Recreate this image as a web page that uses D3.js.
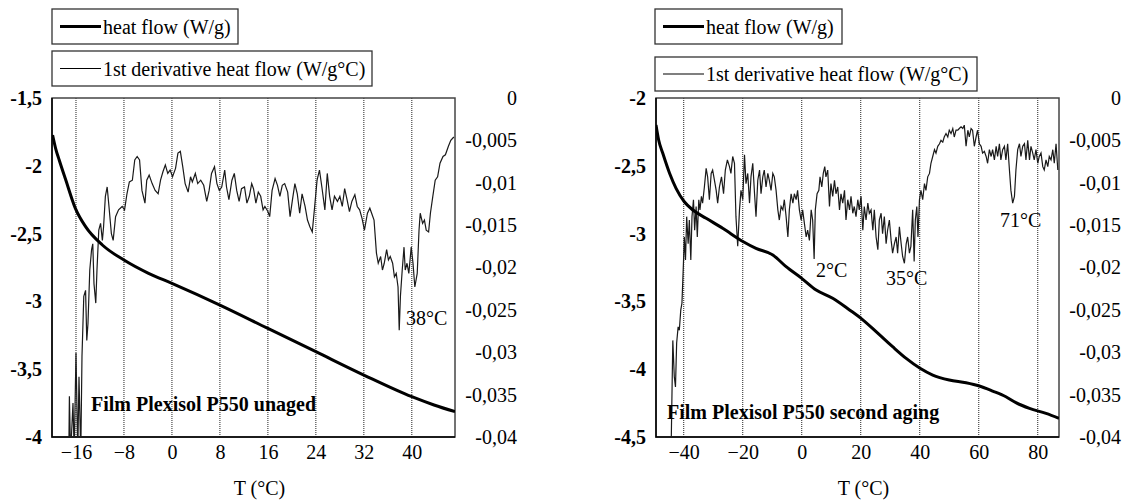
<!DOCTYPE html>
<html>
<head>
<meta charset="utf-8">
<script src="https://cdn.jsdelivr.net/npm/d3@7"></script>
<style>
  body { margin: 0; background: #fff; }
  text { font-family: "Liberation Serif", "Times New Roman", serif; fill: #000; }
</style>
</head>
<body>
<svg width="1132" height="504"></svg>
<script>
// ---- left panel : Film Plexisol P550 unaged ----
const unagedHeatT = [-19.9, -19.4, -18.8, -17.7, -16.1, -14.4, -11.6, -8.0, -3.9, 0, 8.0, 16.0, 24.0, 32.0, 40.0, 43.7, 47.2];
const unagedHeat  = [-1.773, -1.871, -1.957, -2.105, -2.314, -2.449, -2.584, -2.695, -2.793, -2.867, -3.027, -3.199, -3.371, -3.543, -3.703, -3.764, -3.813];

const unagedDerivT = [
  -17.2, -17.1, -16.9, -16.5, -16.3, -16.0, -15.7, -15.5, -15.2, -15.0,
  -14.7, -14.4, -14.2, -14.0, -13.7, -13.4, -13.2, -13.0, -12.7, -12.5,
  -12.2, -11.9, -11.6, -11.4, -11.1, -10.8, -10.5, -10.1, -9.8, -9.4,
  -8.9, -8.3, -7.9, -7.5, -7.1, -6.6, -6.2, -5.8, -5.4, -5.0,
  -4.5, -4.2, -3.8, -3.3, -2.8, -2.3, -1.9, -1.5, -1.1, -0.7,
  -0.3, 0.1, 0.6, 1.0, 1.4, 1.8, 2.2, 2.7, 3.1, 3.4,
  3.9, 4.3, 4.8, 5.3, 5.8, 6.2, 6.6, 7.1, 7.5, 7.9,
  8.3, 8.8, 9.1, 9.5, 10.0, 10.4, 10.8, 11.2, 11.6, 12.1,
  12.5, 12.9, 13.3, 13.6, 14.0, 14.4, 14.8, 15.2, 15.5, 16.0,
  16.3, 16.7, 17.2, 17.6, 18.0, 18.4, 18.8, 19.3, 19.7, 20.1,
  20.5, 20.9, 21.3, 21.7, 22.2, 22.6, 23.0, 23.4, 23.8, 24.2,
  24.6, 25.0, 25.5, 25.9, 26.3, 26.7, 27.1, 27.6, 28.0, 28.4,
  28.8, 29.2, 29.6, 30.0, 30.5, 30.9, 31.3, 31.7, 32.1, 32.6,
  33.0, 33.3, 33.7, 34.1, 34.4, 34.8, 35.1, 35.4, 35.8, 36.1,
  36.4, 36.8, 37.1, 37.4, 37.7, 37.9, 38.1, 38.4, 38.7, 38.9,
  39.2, 39.5, 39.9, 40.2, 40.5, 40.9, 41.2, 41.4, 41.8, 42.1,
  42.4, 42.8, 43.1, 43.5, 43.9, 44.3, 44.7, 45.2, 45.6, 46.1, 46.5, 47.0
];
const unagedDeriv = [
  -0.042, -0.0352, -0.042, -0.0360, -0.042, -0.0301, -0.042, -0.0329, -0.042, -0.0305,
  -0.0234, -0.0227, -0.0286, -0.0266, -0.0203, -0.0179, -0.0172, -0.0219, -0.0242, -0.0203,
  -0.0156, -0.0148, -0.0168, -0.0152, -0.0116, -0.0105, -0.0128, -0.0160, -0.0168, -0.0140,
  -0.0132, -0.0128, -0.0132, -0.0113, -0.0099, -0.0097, -0.0073, -0.0069, -0.0073, -0.0109,
  -0.0124, -0.0097, -0.0091, -0.0101, -0.0109, -0.0113, -0.0097, -0.0087, -0.0079, -0.0089,
  -0.0085, -0.0093, -0.0083, -0.0065, -0.0063, -0.0081, -0.0101, -0.0111, -0.0093, -0.0099,
  -0.0089, -0.0101, -0.0097, -0.0103, -0.0122, -0.0109, -0.0089, -0.0081, -0.0101, -0.0109,
  -0.0105, -0.0085, -0.0105, -0.0120, -0.0097, -0.0089, -0.0109, -0.0122, -0.0107, -0.0105,
  -0.0124, -0.0116, -0.0101, -0.0107, -0.0124, -0.0111, -0.0116, -0.0132, -0.0128, -0.0134,
  -0.0140, -0.0109, -0.0095, -0.0103, -0.0116, -0.0103, -0.0101, -0.0111, -0.0140, -0.0120,
  -0.0101, -0.0113, -0.0136, -0.0113, -0.0128, -0.0144, -0.0152, -0.0158, -0.0128, -0.0097,
  -0.0085, -0.0105, -0.0132, -0.0089, -0.0116, -0.0132, -0.0116, -0.0122, -0.0116, -0.0128,
  -0.0107, -0.0120, -0.0134, -0.0122, -0.0114, -0.0128, -0.0132, -0.0142, -0.0156, -0.0136,
  -0.0130, -0.0136, -0.0144, -0.0183, -0.0195, -0.0187, -0.0203, -0.0195, -0.0179, -0.0191,
  -0.0187, -0.0195, -0.0211, -0.0207, -0.0223, -0.0274, -0.0234, -0.0203, -0.0176, -0.0203,
  -0.0195, -0.0207, -0.0176, -0.0195, -0.0223, -0.0207, -0.0156, -0.0136, -0.0148, -0.0144,
  -0.0156, -0.0158, -0.0136, -0.0116, -0.0097, -0.0093, -0.0077, -0.0069, -0.0067, -0.0057, -0.0050, -0.0046
];
const unagedXTicks = [-16, -8, 0, 8, 16, 24, 32, 40];
const unagedHeatTicks = [-1.5, -2, -2.5, -3, -3.5, -4];

// ---- right panel : Film Plexisol P550 second aging ----
const agedHeatT = [-49.4, -48.5, -47.1, -44.8, -42.6, -39.8, -36.9, -32.4, -26.8, -19.8, -15.5, -9.8, -5.3, 0, 4.9, 10.5, 16.2, 20.1, 25.2, 30.8, 35.4, 40.1, 44.4, 50.0, 55.7, 60.2, 64.7, 69.2, 72.6, 77.2, 82.8, 87.2];
const agedHeat  = [-2.199, -2.310, -2.408, -2.555, -2.666, -2.765, -2.826, -2.887, -2.961, -3.060, -3.109, -3.158, -3.244, -3.330, -3.416, -3.477, -3.563, -3.625, -3.723, -3.834, -3.920, -3.993, -4.043, -4.080, -4.100, -4.124, -4.161, -4.203, -4.247, -4.289, -4.326, -4.362];

const agedDerivT = [
  -44.3, -43.7, -43.2, -42.8, -42.4, -41.9, -41.5, -41.0, -40.6, -40.1,
  -39.8, -39.4, -39.0, -38.5, -38.1, -37.6, -37.2, -36.7, -36.3, -35.8,
  -35.4, -34.9, -34.5, -34.0, -33.6, -33.0, -32.4, -31.9, -31.3, -30.7,
  -30.2, -29.6, -29.0, -28.5, -27.9, -27.2, -26.5, -25.9, -25.2, -24.5,
  -24.0, -23.4, -22.8, -22.3, -21.7, -21.1, -20.6, -20.0, -19.4, -18.9,
  -18.3, -17.7, -17.2, -16.6, -16.0, -15.5, -14.9, -14.3, -13.8, -13.2,
  -12.7, -12.1, -11.5, -11.0, -10.4, -9.8, -9.3, -8.7, -8.1, -7.6,
  -7.0, -6.4, -5.9, -5.3, -4.7, -4.2, -3.6, -3.0, -2.5, -1.9,
  -1.4, -0.8, -0.2, 0.3, 0.9, 1.5, 2.0, 2.6, 3.2, 3.7,
  4.2, 4.6, 5.2, 5.8, 6.2, 6.8, 7.3, 7.8, 8.2, 8.8,
  9.4, 9.9, 10.5, 11.1, 11.6, 12.2, 12.8, 13.3, 13.9, 14.5,
  15.0, 15.6, 16.2, 16.7, 17.3, 17.8, 18.4, 19.0, 19.5, 20.1,
  20.7, 21.2, 21.8, 22.4, 22.9, 23.5, 24.1, 24.6, 25.2, 25.8,
  26.3, 26.9, 27.4, 28.0, 28.6, 29.1, 29.7, 30.3, 30.8, 31.4,
  32.0, 32.5, 33.1, 33.7, 34.2, 34.8, 35.4, 35.9, 36.5, 37.0,
  37.6, 38.1, 38.5, 39.0, 39.4, 39.9, 40.4, 41.0, 41.6, 42.1,
  42.7, 43.3, 43.8, 44.4, 45.0, 45.5, 46.1, 46.7, 47.2, 47.8,
  48.3, 48.9, 49.5, 50.0, 50.6, 51.2, 51.7, 52.3, 52.9, 53.4,
  54.0, 54.6, 55.1, 55.7, 56.3, 56.8, 57.4, 57.9, 58.5, 59.1,
  59.6, 60.2, 60.8, 61.3, 61.9, 62.5, 63.0, 63.6, 64.2, 64.7,
  65.3, 65.9, 66.4, 67.0, 67.5, 68.1, 68.7, 69.2, 69.8, 70.4,
  70.9, 71.5, 72.1, 72.6, 73.2, 73.8, 74.3, 74.9, 75.5, 76.0,
  76.6, 77.2, 77.7, 78.3, 78.8, 79.4, 80.0, 80.5, 81.1, 81.7,
  82.2, 82.8, 83.4, 83.9, 84.5, 85.1, 85.6, 86.2, 86.8
];
const agedDeriv = [
  -0.042, -0.0286, -0.0329, -0.0341, -0.0289, -0.0270, -0.0274, -0.0250, -0.0242, -0.0195,
  -0.0164, -0.0191, -0.0140, -0.0172, -0.0144, -0.0191, -0.0140, -0.0120, -0.0156, -0.0128,
  -0.0164, -0.0120, -0.0132, -0.0116, -0.0124, -0.0105, -0.0083, -0.0093, -0.0120, -0.0089,
  -0.0085, -0.0097, -0.0109, -0.0124, -0.0105, -0.0093, -0.0113, -0.0085, -0.0073, -0.0081,
  -0.0089, -0.0069, -0.0077, -0.0140, -0.0175, -0.0132, -0.0109, -0.0120, -0.0067, -0.0101,
  -0.0089, -0.0124, -0.0093, -0.0077, -0.0113, -0.0140, -0.0097, -0.0085, -0.0113, -0.0093,
  -0.0085, -0.0105, -0.0089, -0.0097, -0.0109, -0.0089, -0.0093, -0.0109, -0.0132, -0.0144,
  -0.0128, -0.0132, -0.0120, -0.0140, -0.0164, -0.0132, -0.0113, -0.0124, -0.0113, -0.0120,
  -0.0109, -0.0132, -0.0144, -0.0132, -0.0148, -0.0164, -0.0156, -0.0168, -0.0132, -0.0144,
  -0.0190, -0.0132, -0.0113, -0.0109, -0.0093, -0.0105, -0.0089, -0.0081, -0.0093, -0.0085,
  -0.0128, -0.0101, -0.0116, -0.0097, -0.0113, -0.0105, -0.0132, -0.0113, -0.0124, -0.0109,
  -0.0144, -0.0120, -0.0132, -0.0116, -0.0136, -0.0128, -0.0140, -0.0120, -0.0132, -0.0116,
  -0.0156, -0.0128, -0.0144, -0.0124, -0.0136, -0.0132, -0.0156, -0.0132, -0.0164, -0.0179,
  -0.0144, -0.0136, -0.0160, -0.0140, -0.0172, -0.0156, -0.0144, -0.0168, -0.0183, -0.0172,
  -0.0164, -0.0183, -0.0152, -0.0172, -0.0187, -0.0195, -0.0172, -0.0164, -0.0183, -0.0175,
  -0.0132, -0.0193, -0.0144, -0.0128, -0.0164, -0.0120, -0.0109, -0.0120, -0.0101, -0.0109,
  -0.0093, -0.0089, -0.0077, -0.0069, -0.0061, -0.0065, -0.0057, -0.0054, -0.0050, -0.0052,
  -0.0046, -0.0042, -0.0046, -0.0038, -0.0042, -0.0036, -0.0046, -0.0038, -0.0038, -0.0036,
  -0.0034, -0.0036, -0.0032, -0.0057, -0.0038, -0.0046, -0.0036, -0.0038, -0.0057, -0.0046,
  -0.0038, -0.0054, -0.0057, -0.0065, -0.0063, -0.0069, -0.0077, -0.0061, -0.0069, -0.0061,
  -0.0073, -0.0057, -0.0069, -0.0054, -0.0073, -0.0061, -0.0057, -0.0073, -0.0054, -0.0085,
  -0.0109, -0.0124, -0.0116, -0.0085, -0.0061, -0.0054, -0.0069, -0.0057, -0.0054, -0.0073,
  -0.0050, -0.0073, -0.0057, -0.0065, -0.0073, -0.0061, -0.0077, -0.0069, -0.0065, -0.0081,
  -0.0085, -0.0073, -0.0081, -0.0069, -0.0073, -0.0061, -0.0077, -0.0054, -0.0085
];
const agedXTicks = [-40, -20, 0, 20, 40, 60, 80];
const agedHeatTicks = [-2, -2.5, -3, -3.5, -4, -4.5];

// shared
const derivTicks = [0, -0.005, -0.01, -0.015, -0.02, -0.025, -0.03, -0.035, -0.04];
const legendLabels = ["heat flow (W/g)", "1st derivative heat flow (W/g\u00b0C)"];

const fmt = d => String(d).replace(".", ",");
const svg = d3.select("svg");
svg.append("rect").attr("width", 1132).attr("height", 504).attr("fill", "#fff");

function panel(o) {
  const x = d3.scaleLinear().domain(o.tDomain).range([o.left, o.right]);
  const yH = d3.scaleLinear().domain(o.heatDomain).range([o.top, o.bottom]);
  const yD = d3.scaleLinear().domain([0, -0.04]).range([o.top, o.bottom]);
  const g = svg.append("g");

  g.append("clipPath").attr("id", o.id + "-clip")
    .append("rect").attr("x", o.left).attr("y", o.top)
    .attr("width", o.right - o.left).attr("height", o.bottom - o.top);

  // dotted vertical gridlines
  g.append("g").selectAll("line").data(o.xTicks).join("line")
    .attr("x1", d => x(d)).attr("x2", d => x(d))
    .attr("y1", o.top).attr("y2", o.bottom)
    .attr("stroke", "#222").attr("stroke-width", 1).attr("stroke-dasharray", "1,1");

  // plot frame
  g.append("rect").attr("x", o.left).attr("y", o.top)
    .attr("width", o.right - o.left).attr("height", o.bottom - o.top)
    .attr("fill", "none").attr("stroke", "#444").attr("stroke-width", 1.5);
  g.append("path").attr("d", `M${o.left},${o.top}V${o.bottom}H${o.right}`)
    .attr("fill", "none").attr("stroke", "#000").attr("stroke-width", 1.5);

  // left axis (heat flow), bold labels
  const axL = g.append("g").attr("transform", `translate(${o.left},0)`)
    .call(d3.axisLeft(yH).tickValues(o.heatTicks).tickSize(0).tickPadding(10).tickFormat(fmt));
  axL.select(".domain").remove();
  axL.selectAll("text").attr("font-size", 20).attr("font-weight", "bold")
    .attr("font-family", "Liberation Serif, serif");

  // right axis (derivative), labels right-aligned away from the frame
  const axR = g.append("g").attr("transform", `translate(${o.right + 62},0)`)
    .call(d3.axisRight(yD).tickValues(derivTicks).tickSize(0).tickPadding(0).tickFormat(fmt));
  axR.select(".domain").remove();
  axR.selectAll("text").attr("font-size", 20).attr("text-anchor", "end")
    .attr("font-family", "Liberation Serif, serif");

  // bottom axis
  const axB = g.append("g").attr("transform", `translate(0,${o.bottom})`)
    .call(d3.axisBottom(x).tickValues(o.xTicks).tickSize(0).tickPadding(8));
  axB.select(".domain").remove();
  axB.selectAll("text").attr("font-size", 20).attr("font-family", "Liberation Serif, serif");

  g.append("text").attr("x", (o.left + o.right) / 2 + 6).attr("y", 495)
    .attr("text-anchor", "middle").attr("font-size", 20).text("T (\u00b0C)");

  // derivative curve (thin)
  g.append("path").datum(d3.zip(o.derivT, o.deriv))
    .attr("clip-path", `url(#${o.id}-clip)`)
    .attr("fill", "none").attr("stroke", "#1a1a1a").attr("stroke-width", 1.2)
    .attr("d", d3.line().x(d => x(d[0])).y(d => yD(d[1])));

  // heat flow curve (thick)
  g.append("path").datum(d3.zip(o.heatT, o.heat))
    .attr("clip-path", `url(#${o.id}-clip)`)
    .attr("fill", "none").attr("stroke", "#000").attr("stroke-width", 3)
    .attr("d", d3.line().curve(d3.curveMonotoneX).x(d => x(d[0])).y(d => yH(d[1])));

  // legends
  o.legend.forEach((b, i) => {
    const lg = g.append("g");
    lg.append("rect").attr("x", b.x).attr("y", b.y).attr("width", b.w).attr("height", b.h)
      .attr("fill", "#fff").attr("stroke", "#333").attr("stroke-width", 1.3);
    const cy = b.y + b.h / 2;
    lg.append("line").attr("x1", b.x + 8).attr("x2", b.x + 49).attr("y1", cy).attr("y2", cy)
      .attr("stroke", "#000").attr("stroke-width", i === 0 ? 3 : 1.2);
    lg.append("text").attr("x", b.x + 51).attr("y", cy + 7).attr("font-size", 20)
      .text(legendLabels[i]);
  });

  // peak labels and sample name
  o.notes.forEach(n => {
    g.append("text").attr("x", n.x).attr("y", n.y).attr("font-size", 20)
      .attr("font-weight", n.bold ? "bold" : null).text(n.text);
  });
}

panel({
  id: "unaged", left: 52, right: 455, top: 98, bottom: 437,
  tDomain: [-20, 47.2], heatDomain: [-1.5, -4],
  xTicks: unagedXTicks, heatTicks: unagedHeatTicks,
  heatT: unagedHeatT, heat: unagedHeat, derivT: unagedDerivT, deriv: unagedDeriv,
  legend: [{x: 52, y: 9, w: 186, h: 35}, {x: 52, y: 51, w: 320, h: 35}],
  notes: [
    {text: "38\u00b0C", x: 406, y: 325},
    {text: "Film Plexisol P550 unaged", x: 91, y: 411, bold: true}
  ]
});

panel({
  id: "aged", left: 656, right: 1059, top: 98, bottom: 437,
  tDomain: [-49.4, 87.2], heatDomain: [-2, -4.5],
  xTicks: agedXTicks, heatTicks: agedHeatTicks,
  heatT: agedHeatT, heat: agedHeat, derivT: agedDerivT, deriv: agedDeriv,
  legend: [{x: 655, y: 9, w: 187, h: 35}, {x: 655, y: 57, w: 322, h: 34}],
  notes: [
    {text: "2\u00b0C", x: 816, y: 277},
    {text: "35\u00b0C", x: 886, y: 285},
    {text: "71\u00b0C", x: 1000, y: 227},
    {text: "Film Plexisol P550 second aging", x: 667, y: 419, bold: true}
  ]
});
</script>
</body>
</html>
